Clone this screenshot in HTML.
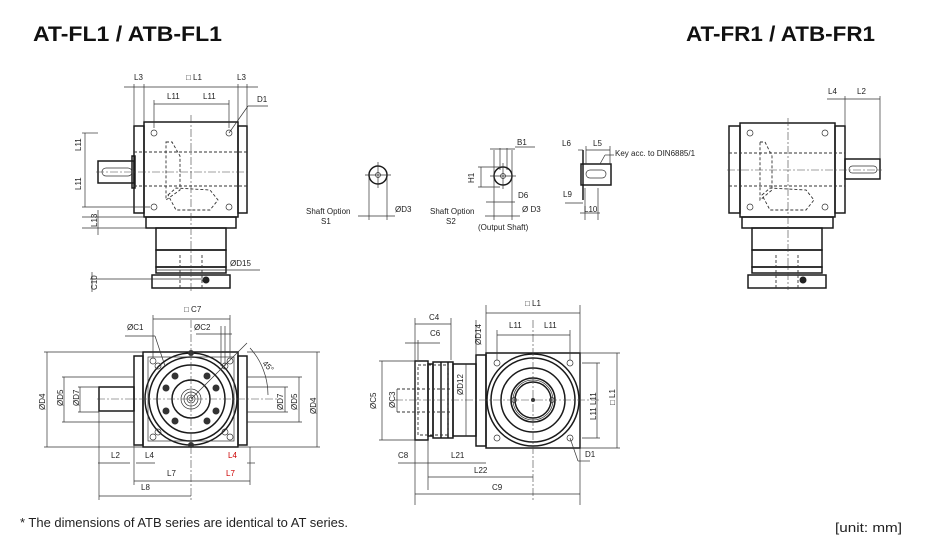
<!DOCTYPE html>
<html><head><meta charset="utf-8"><style>
html,body{margin:0;padding:0;background:#fff;width:925px;height:536px;overflow:hidden}
svg{display:block}
text{font-family:"Liberation Sans",sans-serif;font-size:8px;fill:#222}
.t{font-size:21px;font-weight:bold;fill:#111}
.s{fill:none;stroke:#1a1a1a;stroke-width:1.5}
.th{fill:none;stroke:#333;stroke-width:0.7}
.d{fill:none;stroke:#333;stroke-width:0.9;stroke-dasharray:3 2}
.c{fill:none;stroke:#444;stroke-width:0.6;stroke-dasharray:8 2 2 2}
</style></head><body>
<svg width="925" height="536" viewBox="0 0 925 536">
<text class="t" x="33" y="41" textLength="189" lengthAdjust="spacingAndGlyphs">AT-FL1 / ATB-FL1</text>
<text class="t" x="686" y="41" textLength="189" lengthAdjust="spacingAndGlyphs">AT-FR1 / ATB-FR1</text>

<!-- TOP LEFT VIEW -->
<g>
<rect class="s" x="144" y="122" width="94" height="95"/>
<rect class="s" x="134" y="126" width="10" height="87"/>
<rect class="s" x="238" y="126" width="9" height="87"/>
<rect class="s" x="132" y="156" width="3" height="32"/>
<rect class="s" x="98" y="161" width="36" height="22"/>
<rect class="th" x="102" y="168" width="30" height="8" rx="4"/>
<rect class="s" x="146" y="217" width="90" height="11"/>
<rect class="s" x="156" y="228" width="70" height="22"/>
<rect class="s" x="156" y="250" width="70" height="17"/>
<rect class="s" x="156" y="267" width="70" height="6"/>
<rect class="s" x="152" y="275" width="78" height="13"/>
<circle cx="206" cy="280" r="3.5" fill="#222"/>
<line class="d" x1="134" y1="152" x2="247" y2="152"/>
<line class="d" x1="134" y1="186" x2="247" y2="186"/>
<path class="d" d="M166 142 L172 142 L180 156 L180 190 L166 200 Z M168 195 L176 188 L210 190 L218 200 L210 210 L176 210 Z"/>
<line class="d" x1="180" y1="255" x2="180" y2="288"/><line class="d" x1="202" y1="255" x2="202" y2="288"/>
<line class="c" x1="191" y1="115" x2="191" y2="292"/>
<line class="c" x1="96" y1="172" x2="250" y2="172"/>
<g class="th"><circle cx="154" cy="133" r="3"/><circle cx="229" cy="133" r="3"/><circle cx="154" cy="207" r="3"/><circle cx="229" cy="207" r="3"/></g>
<g class="th">
<line x1="134" y1="84" x2="134" y2="126"/><line x1="144" y1="84" x2="144" y2="122"/><line x1="238" y1="84" x2="238" y2="122"/><line x1="247" y1="84" x2="247" y2="126"/>
<line x1="124" y1="87" x2="258" y2="87"/>
<line x1="154" y1="104" x2="229" y2="104"/><line x1="154" y1="100" x2="154" y2="128"/><line x1="229" y1="100" x2="229" y2="128"/>
<line x1="229" y1="133" x2="248" y2="106"/><line x1="248" y1="106" x2="268" y2="106"/>
<line x1="82" y1="133" x2="98" y2="133"/><line x1="82" y1="207" x2="150" y2="207"/><line x1="85" y1="133" x2="85" y2="207"/>
<line x1="82" y1="217" x2="144" y2="217"/><line x1="82" y1="228" x2="146" y2="228"/><line x1="98" y1="210" x2="98" y2="235"/>
<line x1="92" y1="272" x2="92" y2="292"/><line x1="90" y1="279" x2="206" y2="279"/>
<line x1="157" y1="270" x2="260" y2="270"/>
</g>
<text x="134" y="80">L3</text><text x="186" y="80">□ L1</text><text x="237" y="80">L3</text>
<text x="167" y="99">L11</text><text x="203" y="99">L11</text><text x="257" y="102">D1</text>
<text x="81" y="151" transform="rotate(-90 81 151)">L11</text>
<text x="81" y="190" transform="rotate(-90 81 190)">L11</text>
<text x="97" y="227" transform="rotate(-90 97 227)">L13</text>
<text x="97" y="290" transform="rotate(-90 97 290)">C10</text>
<text x="230" y="266">ØD15</text>
</g>

<!-- SHAFT OPTIONS -->
<g>
<circle class="s" cx="378" cy="175" r="9"/><circle class="th" cx="378" cy="175" r="2.5"/>
<line class="th" x1="365" y1="175" x2="391" y2="175"/><line class="th" x1="378" y1="162" x2="378" y2="188"/>
<line class="th" x1="369" y1="178" x2="369" y2="220"/><line class="th" x1="387" y1="178" x2="387" y2="220"/>
<line class="th" x1="358" y1="216" x2="395" y2="216"/>
<text x="395" y="212">ØD3</text>
<text x="306" y="214">Shaft Option</text><text x="321" y="224">S1</text>
<circle class="s" cx="503" cy="176" r="9"/><circle class="th" cx="503" cy="176" r="2.5"/>
<line class="th" x1="490" y1="176" x2="516" y2="176"/><line class="th" x1="503" y1="163" x2="503" y2="189"/>
<g class="th"><line x1="494" y1="150" x2="494" y2="220"/><line x1="512" y1="150" x2="512" y2="220"/><line x1="500" y1="148" x2="500" y2="170"/><line x1="507" y1="148" x2="507" y2="170"/>
<line x1="490" y1="149" x2="515" y2="149"/><line x1="515" y1="147" x2="535" y2="147"/>
<line x1="478" y1="167" x2="500" y2="167"/><line x1="478" y1="187" x2="500" y2="187"/><line x1="481" y1="167" x2="481" y2="187"/>
<line x1="486" y1="202" x2="515" y2="202"/><line x1="485" y1="216" x2="520" y2="216"/></g>
<text x="517" y="145">B1</text><text x="468" y="177" transform="rotate(-90 474 177)">H1</text>
<text x="518" y="198">D6</text><text x="522" y="212">Ø D3</text>
<text x="430" y="214">Shaft Option</text><text x="446" y="224">S2</text>
<text x="478" y="230">(Output Shaft)</text>
<rect class="s" x="581" y="164" width="30" height="21"/>
<rect class="th" x="586" y="170" width="20" height="8" rx="4"/>
<line class="s" x1="583" y1="150" x2="583" y2="200"/>
<g class="th"><line x1="578" y1="150" x2="583" y2="150"/><line x1="586" y1="150" x2="610" y2="150"/><line x1="586" y1="146" x2="586" y2="164"/><line x1="610" y1="146" x2="610" y2="164"/>
<line x1="600" y1="164" x2="605" y2="155"/><line x1="605" y1="155" x2="614" y2="155"/>
<line x1="565" y1="203" x2="583" y2="203"/><line x1="585" y1="188" x2="585" y2="220"/><line x1="598" y1="188" x2="598" y2="220"/><line x1="580" y1="213" x2="600" y2="213"/></g>
<text x="562" y="146">L6</text><text x="593" y="146">L5</text><text x="615" y="156">Key acc. to DIN6885/1</text>
<text x="563" y="197">L9</text><text x="584" y="212">L10</text>
</g>

<!-- TOP RIGHT VIEW -->
<g>
<rect class="s" x="740" y="123" width="95" height="94"/>
<rect class="s" x="729" y="126" width="11" height="87"/>
<rect class="s" x="835" y="126" width="10" height="87"/>
<rect class="s" x="845" y="159" width="35" height="20"/>
<rect class="th" x="849" y="166" width="28" height="7" rx="3.5"/>
<rect class="s" x="742" y="217" width="91" height="11"/>
<rect class="s" x="752" y="228" width="70" height="22"/>
<rect class="s" x="752" y="250" width="70" height="17"/>
<rect class="s" x="752" y="267" width="70" height="6"/>
<rect class="s" x="748" y="275" width="78" height="13"/>
<circle cx="803" cy="280" r="3.5" fill="#222"/>
<line class="d" x1="729" y1="153" x2="845" y2="153"/><line class="d" x1="729" y1="186" x2="845" y2="186"/>
<path class="d" d="M760 142 L765 142 L772 156 L772 190 L760 200 Z M762 195 L770 188 L806 190 L814 200 L806 210 L770 210 Z"/>
<line class="d" x1="776" y1="255" x2="776" y2="288"/><line class="d" x1="798" y1="255" x2="798" y2="288"/>
<line class="c" x1="788" y1="118" x2="788" y2="290"/><line class="c" x1="727" y1="170" x2="882" y2="170"/>
<g class="th"><circle cx="750" cy="133" r="3"/><circle cx="825" cy="133" r="3"/><circle cx="750" cy="207" r="3"/><circle cx="825" cy="207" r="3"/>
<line x1="845" y1="96" x2="845" y2="126"/><line x1="880" y1="96" x2="880" y2="159"/><line x1="827" y1="99" x2="880" y2="99"/></g>
<text x="828" y="94">L4</text><text x="857" y="94">L2</text>
</g>

<!-- BOTTOM LEFT VIEW -->
<g>
<rect class="s" x="143" y="352" width="95" height="95"/>
<rect class="s" x="134" y="356" width="9" height="89"/>
<rect class="s" x="238" y="356" width="9" height="89"/>
<rect class="s" x="99" y="387" width="35" height="24"/>
<g class="s"><circle cx="191" cy="399" r="46"/><circle cx="191" cy="399" r="42"/><circle cx="191" cy="399" r="34"/><circle cx="191" cy="399" r="19"/></g>
<g class="th"><circle cx="191" cy="399" r="10"/><circle cx="191" cy="399" r="7"/><circle cx="191" cy="399" r="4"/><circle cx="191" cy="399" r="2"/>
<rect x="148" y="357" width="86" height="84"/>
<circle cx="153" cy="361" r="3"/><circle cx="230" cy="361" r="3"/><circle cx="153" cy="437" r="3"/><circle cx="230" cy="437" r="3"/>
<circle cx="158" cy="366" r="3"/><circle cx="225" cy="366" r="3"/><circle cx="158" cy="432" r="3"/><circle cx="225" cy="432" r="3"/></g>
<g fill="#333"><circle cx="175" cy="376" r="3.5"/><circle cx="207" cy="376" r="3.5"/><circle cx="166" cy="388" r="3.5"/><circle cx="216" cy="388" r="3.5"/><circle cx="166" cy="411" r="3.5"/><circle cx="216" cy="411" r="3.5"/><circle cx="175" cy="421" r="3.5"/><circle cx="207" cy="421" r="3.5"/>
<circle cx="191" cy="353" r="3"/><circle cx="191" cy="445" r="3"/></g>
<line class="c" x1="191" y1="320" x2="191" y2="502"/><line class="c" x1="97" y1="399" x2="280" y2="399"/>
<g class="th">
<line x1="44" y1="352" x2="143" y2="352"/><line x1="44" y1="447" x2="143" y2="447"/><line x1="47" y1="352" x2="47" y2="447"/>
<line x1="62" y1="377" x2="134" y2="377"/><line x1="62" y1="422" x2="134" y2="422"/><line x1="64" y1="377" x2="64" y2="422"/>
<line x1="78" y1="387" x2="99" y2="387"/><line x1="78" y1="412" x2="99" y2="412"/><line x1="80" y1="387" x2="80" y2="412"/>
<line x1="247" y1="352" x2="320" y2="352"/><line x1="238" y1="447" x2="320" y2="447"/><line x1="317" y1="352" x2="317" y2="447"/>
<line x1="247" y1="377" x2="302" y2="377"/><line x1="247" y1="422" x2="302" y2="422"/><line x1="299" y1="377" x2="299" y2="422"/>
<line x1="247" y1="387" x2="288" y2="387"/><line x1="247" y1="412" x2="288" y2="412"/><line x1="285" y1="387" x2="285" y2="412"/>
<line x1="153" y1="315" x2="153" y2="357"/><line x1="230" y1="315" x2="230" y2="357"/><line x1="153" y1="319" x2="230" y2="319"/>
<line x1="221" y1="326" x2="221" y2="366"/><line x1="225" y1="326" x2="225" y2="366"/><line x1="196" y1="334" x2="232" y2="334"/>
<line x1="125" y1="336" x2="155" y2="336"/><line x1="155" y1="336" x2="165" y2="366"/>
<line x1="191" y1="399" x2="247" y2="343"/>
<path d="M250 348 A70 70 0 0 1 268 395"/>
<line x1="99" y1="411" x2="99" y2="500"/><line x1="134" y1="411" x2="134" y2="485"/><line x1="250" y1="447" x2="250" y2="485"/>
<line x1="98" y1="463" x2="130" y2="463"/><line x1="136" y1="463" x2="155" y2="463"/><line x1="247" y1="463" x2="255" y2="463"/>
<line x1="134" y1="481" x2="250" y2="481"/><line x1="99" y1="496" x2="191" y2="496"/>
</g>
<text x="184" y="312">□ C7</text><text x="127" y="330">ØC1</text><text x="194" y="330">ØC2</text>
<text x="262" y="364" transform="rotate(45 262 364)">45°</text>
<text x="45" y="410" transform="rotate(-90 45 410)">ØD4</text>
<text x="63" y="406" transform="rotate(-90 63 406)">ØD5</text>
<text x="79" y="406" transform="rotate(-90 79 406)">ØD7</text>
<text x="283" y="410" transform="rotate(-90 283 410)">ØD7</text>
<text x="297" y="410" transform="rotate(-90 297 410)">ØD5</text>
<text x="316" y="414" transform="rotate(-90 316 414)">ØD4</text>
<text x="111" y="458">L2</text><text x="145" y="458">L4</text><text x="228" y="458" style="fill:#c00">L4</text>
<text x="167" y="476">L7</text><text x="226" y="476" style="fill:#c00">L7</text><text x="141" y="490">L8</text>
</g>

<!-- BOTTOM RIGHT VIEW -->
<g>
<rect class="s" x="486" y="353" width="94" height="95"/>
<rect class="s" x="476" y="355" width="10" height="91"/>
<rect class="s" x="453" y="364" width="23" height="72"/>
<rect class="s" x="433" y="362" width="20" height="76"/>
<line class="s" x1="441" y1="362" x2="441" y2="438"/><line class="s" x1="448" y1="362" x2="448" y2="438"/>
<rect class="s" x="428" y="364" width="5" height="72"/>
<rect class="s" x="415" y="361" width="13" height="79"/>
<rect class="d" x="418" y="365" width="30" height="70"/>
<line class="d" x1="397" y1="389" x2="452" y2="389"/><line class="d" x1="397" y1="412" x2="452" y2="412"/>
<g class="s"><circle cx="533" cy="400" r="46"/><circle cx="533" cy="400" r="42"/><circle cx="533" cy="400" r="32"/><circle cx="533" cy="400" r="22"/><circle cx="533" cy="400" r="18"/></g>
<g class="th"><circle cx="533" cy="400" r="20"/><circle cx="497" cy="363" r="3"/><circle cx="570" cy="363" r="3"/><circle cx="497" cy="438" r="3"/><circle cx="570" cy="438" r="3"/>
<circle cx="514" cy="400" r="2.5"/><circle cx="552" cy="400" r="2.5"/></g>
<circle cx="533" cy="400" r="2" fill="#333"/>
<line class="c" x1="533" y1="320" x2="533" y2="500"/><line class="c" x1="395" y1="400" x2="600" y2="400"/>
<g class="th">
<line x1="486" y1="305" x2="486" y2="353"/><line x1="580" y1="305" x2="580" y2="505"/><line x1="486" y1="313" x2="580" y2="313"/>
<line x1="497" y1="330" x2="497" y2="360"/><line x1="570" y1="330" x2="570" y2="360"/><line x1="497" y1="335" x2="570" y2="335"/>
<line x1="580" y1="353" x2="620" y2="353"/><line x1="580" y1="448" x2="620" y2="448"/><line x1="617" y1="353" x2="617" y2="448"/>
<line x1="582" y1="363" x2="600" y2="363"/><line x1="582" y1="438" x2="600" y2="438"/><line x1="597" y1="363" x2="597" y2="438"/>
<line x1="570" y1="438" x2="578" y2="461"/><line x1="578" y1="461" x2="590" y2="461"/>
<line x1="415" y1="318" x2="415" y2="505"/><line x1="451" y1="318" x2="451" y2="360"/><line x1="415" y1="324" x2="451" y2="324"/>
<line x1="418" y1="340" x2="418" y2="360"/><line x1="405" y1="343" x2="440" y2="343"/>
<line x1="379" y1="361" x2="415" y2="361"/><line x1="379" y1="440" x2="415" y2="440"/><line x1="382" y1="361" x2="382" y2="440"/>
<line x1="397" y1="389" x2="397" y2="412"/>
<line x1="466" y1="364" x2="466" y2="436"/>
<line x1="476" y1="320" x2="476" y2="355"/>
<line x1="398" y1="463" x2="486" y2="463"/><line x1="428" y1="440" x2="428" y2="490"/>
<line x1="428" y1="477" x2="533" y2="477"/><line x1="415" y1="494" x2="580" y2="494"/>
</g>
<text x="525" y="306">□ L1</text><text x="509" y="328">L11</text><text x="544" y="328">L11</text>
<text x="429" y="320">C4</text><text x="430" y="336">C6</text>
<text x="481" y="345" transform="rotate(-90 481 345)">ØD14</text>
<text x="376" y="409" transform="rotate(-90 376 409)">ØC5</text>
<text x="395" y="408" transform="rotate(-90 395 408)">ØC3</text>
<text x="463" y="395" transform="rotate(-90 463 395)">ØD12</text>
<text x="596" y="420" transform="rotate(-90 596 420)">L11 L11</text>
<text x="615" y="405" transform="rotate(-90 615 405)">□ L1</text>
<text x="585" y="457">D1</text>
<text x="398" y="458">C8</text><text x="451" y="458">L21</text><text x="474" y="473">L22</text><text x="492" y="490">C9</text>
</g>

<text x="20" y="527" style="font-size:12.5px" textLength="328" lengthAdjust="spacingAndGlyphs">* The dimensions of ATB series are identical to AT series.</text>
<text x="835" y="532" style="font-size:13px" textLength="67" lengthAdjust="spacingAndGlyphs">[unit: mm]</text>
</svg>
</body></html>
